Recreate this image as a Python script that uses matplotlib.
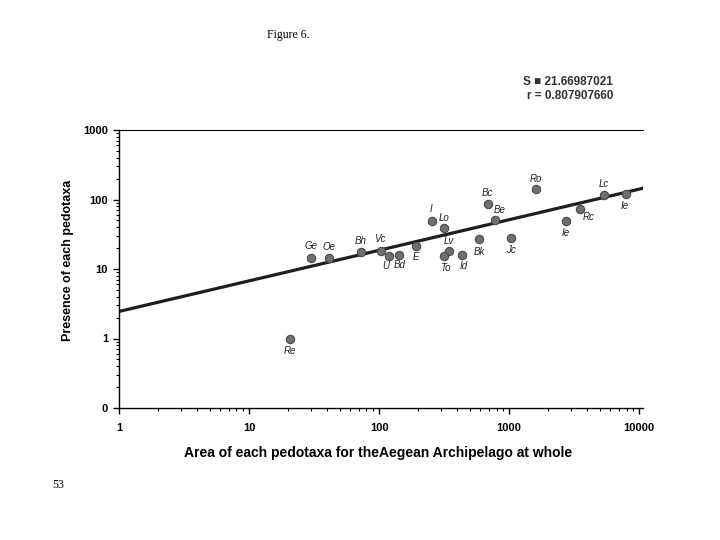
import numpy as np
import matplotlib
matplotlib.use("Agg")
import matplotlib.pyplot as plt
from matplotlib.ticker import LogLocator, FixedLocator, FixedFormatter, NullFormatter

# pedotaxa: area (x) and presence (y)
names = ["Re", "Ge", "Oe", "Bh", "Vc", "U", "Bd", "E", "I", "Lo", "Lv", "To",
         "Id", "Bk", "Bc", "Be", "Jc", "Ro", "Ie", "Rc", "Lc", "Ie"]
area = [20.6, 30.2, 41.4, 72.1, 103, 119, 143, 193, 256, 315, 347, 315,
        436, 591, 684, 780, 1036, 1619, 2718, 3483, 5321, 7850]
presence = [1.0, 14.6, 14.6, 17.5, 17.9, 15.6, 15.7, 21.1, 49.3, 38.3, 17.9, 15.2,
            15.7, 27.2, 87.3, 51.4, 28.1, 141, 48.9, 73.8, 115, 120]
# label offsets in pixels
lab_dx = [0, 0, 0, 0, -1, -3, 0, 0, -1, 0, -1, 1, 1, 0, 0, 5, 0, 0, 0, 9, 0, -1]
lab_dy = [-12, 12, 11, 11, 12, -10, -10, -11, 12, 10, 10, -12, -11, -13, 11, 10, -12, 10, -12, -8, 11, -12]

# fitted power line S = a * A^b
fit_a = 2.45
fit_b = 0.44

x_ticks = [1, 10, 100, 1000, 10000]
y_ticks = [0.1, 1, 10, 100, 1000]
y_tick_labels = ["0", "1", "10", "100", "1000"]

fig = plt.figure(figsize=(7.2, 5.4), dpi=100)
ax = fig.add_axes([119 / 720, 1 - 408 / 540, (643 - 119) / 720, (408 - 130) / 540])
ax.set_xscale("log")
ax.set_yscale("log")
ax.set_xlim(1, 10700)
ax.set_ylim(0.1, 1000)

xx = np.array([1, 10700])
ax.plot(xx, fit_a * xx ** fit_b, color="#1e1e1e", linewidth=2.3, zorder=2)
ax.plot(area, presence, "o", markersize=6, markerfacecolor="#6f6f6f",
        markeredgecolor="#4a4a4a", markeredgewidth=0.8, zorder=3)

for n, x, y, dx, dy in zip(names, area, presence, lab_dx, lab_dy):
    ax.annotate(n, (x, y), xytext=(dx, dy), textcoords="offset pixels",
                ha="center", va="center", fontsize=7, style="italic",
                family="Liberation Sans", color="#222222")

ax.spines["right"].set_visible(False)
ax.spines["top"].set_linewidth(0.8)
ax.spines["left"].set_linewidth(1.0)
ax.spines["bottom"].set_linewidth(1.0)

ax.xaxis.set_major_locator(FixedLocator(x_ticks))
ax.xaxis.set_major_formatter(FixedFormatter([str(t) for t in x_ticks]))
ax.xaxis.set_minor_locator(LogLocator(base=10, subs=np.arange(2, 10)))
ax.xaxis.set_minor_formatter(NullFormatter())
ax.yaxis.set_major_locator(FixedLocator(y_ticks))
ax.yaxis.set_major_formatter(FixedFormatter(y_tick_labels))
ax.yaxis.set_minor_locator(LogLocator(base=10, subs=np.arange(2, 10)))
ax.yaxis.set_minor_formatter(NullFormatter())

ax.tick_params(which="major", direction="out", length=4, width=1)
ax.tick_params(which="minor", direction="out", length=2.5, width=0.8)
ax.tick_params(axis="x", which="major", pad=7)
ax.tick_params(axis="y", which="major", pad=4)
for lab in ax.get_xticklabels() + ax.get_yticklabels():
    lab.set_fontsize(8)
    lab.set_fontweight("bold")
    lab.set_family("Liberation Sans")

ax.set_xlabel("Area of each pedotaxa for theAegean Archipelago at whole",
              fontsize=10, fontweight="bold", family="Liberation Sans")
ax.set_ylabel("Presence of each pedotaxa", fontsize=9, fontweight="bold",
              family="Liberation Sans")
ax.xaxis.set_label_coords(0.495, -0.162)
ax.xaxis.label.set_va("center")
ax.yaxis.set_label_coords(-0.097, 0.532)
ax.yaxis.label.set_va("center")
ax.yaxis.label.set_ha("center")

fig.text(288 / 720, 1 - 35 / 540, "Figure 6.", ha="center", va="center",
         fontsize=8.5, family="Liberation Serif")
fig.text(613 / 720, 1 - 82 / 540, "S \u25a0 21.66987021", ha="right", va="center",
         fontsize=8.5, fontweight="bold", family="Liberation Sans", color="#333333")
fig.text(613 / 720, 1 - 96 / 540, "r = 0.807907660", ha="right", va="center",
         fontsize=8.5, fontweight="bold", family="Liberation Sans", color="#333333")
fig.text(58 / 720, 1 - 485 / 540, "53", ha="center", va="center",
         fontsize=8.5, family="Liberation Serif")

fig.savefig("out.png", dpi=100)
